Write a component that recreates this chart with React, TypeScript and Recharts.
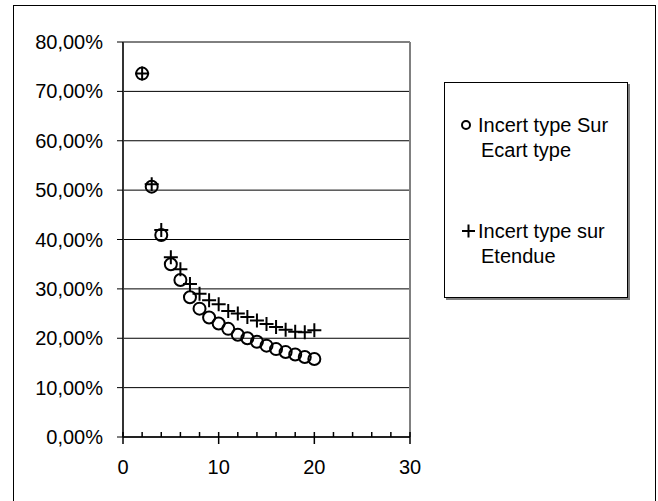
import {
  ScatterChart,
  Scatter,
  XAxis,
  YAxis,
  CartesianGrid,
  Legend,
  ReferenceLine,
} from "recharts"

// sample size n
const X_VALUES = [2, 3, 4, 5, 6, 7, 8, 9, 10, 11, 12, 13, 14, 15, 16, 17, 18, 19, 20]

// values in %
const ECART_TYPE = [
  73.6, 50.7, 40.9, 35.0, 31.8, 28.3, 26.0, 24.2, 23.0, 21.9,
  20.7, 20.0, 19.3, 18.5, 17.8, 17.2, 16.7, 16.2, 15.8,
]
const ETENDUE = [
  73.6, 51.2, 41.9, 36.4, 34.0, 31.0, 29.0, 27.7, 26.9, 25.5,
  25.0, 24.3, 23.6, 22.9, 22.3, 21.7, 21.3, 21.2, 21.6,
]

const X_TICKS = [0, 2, 4, 6, 8, 10, 12, 14, 16, 18, 20, 22, 24, 26, 28, 30]
const Y_TICKS = [0, 10, 20, 30, 40, 50, 60, 70, 80]

const SERIES_NAMES = ["Incert type Sur Ecart type", "Incert type sur Etendue"]

const FONT = "'Liberation Sans', Arial, sans-serif"

const ecartData = X_VALUES.map((x, i) => ({ x, y: ECART_TYPE[i] }))
const etendueData = X_VALUES.map((x, i) => ({ x, y: ETENDUE[i] }))

const formatPercent = (v: number) => `${v.toFixed(2).replace(".", ",")}%`

const circleShape = (props: any) => (
  <circle cx={props.cx} cy={props.cy} r={6} fill="none" stroke="#000" strokeWidth={2} />
)

const plusShape = (props: any) => {
  const { cx, cy } = props
  return (
    <path
      d={`M${cx - 7},${cy}H${cx + 7}M${cx},${cy - 7}V${cy + 7}`}
      stroke="#000"
      strokeWidth={2}
      fill="none"
    />
  )
}

const XTick = (props: any) => {
  const { x, y, payload } = props
  const major = payload.value % 10 === 0
  return (
    <g>
      <line x1={x} x2={x} y1={y - 5} y2={major ? y + 7 : y} stroke="#000" strokeWidth={1.5} />
      {major && (
        <text x={x} y={y + 37} textAnchor="middle" fontSize={20} fontFamily={FONT} fill="#000">
          {payload.value}
        </text>
      )}
    </g>
  )
}

const renderLegend = () => (
  <div
    style={{
      width: 184,
      height: 216,
      boxSizing: "border-box",
      border: "1px solid #000",
      boxShadow: "2px 2px 0 #808080",
      background: "#fff",
    }}
  >
    <svg width={182} height={214} style={{ display: "block" }}>
      <circle cx={21} cy={42} r={4} fill="none" stroke="#000" strokeWidth={2} />
      <text x={33} y={49} fontSize={20} fontFamily={FONT} fill="#000">
        <tspan x={33}>Incert type Sur</tspan>
        <tspan x={36} dy={25}>Ecart type</tspan>
      </text>
      <path d="M17,148H30M23.5,141.5V154.5" stroke="#000" strokeWidth={2} />
      <text x={33} y={155} fontSize={20} fontFamily={FONT} fill="#000">
        <tspan x={33}>Incert type sur</tspan>
        <tspan x={36} dy={25}>Etendue</tspan>
      </text>
    </svg>
  </div>
)

export default function App() {
  return (
    <div
      style={{
        position: "absolute",
        left: 0,
        top: 0,
        width: 658,
        height: 501,
        overflow: "hidden",
        background: "#fff",
      }}
    >
      <div
        style={{
          position: "absolute",
          left: 13,
          top: 5,
          width: 641,
          height: 520,
          border: "1px solid #000",
        }}
      />
      <div style={{ position: "absolute", left: 0, top: 0 }}>
        <ScatterChart
          width={658}
          height={501}
          margin={{ top: 42, right: 248, bottom: 24, left: 0 }}
        >
          <CartesianGrid vertical={false} stroke="#000" strokeWidth={1} />
          <XAxis
            type="number"
            dataKey="x"
            domain={[0, 30]}
            ticks={X_TICKS}
            interval={0}
            height={40}
            tickSize={0}
            tickMargin={0}
            tickLine={false}
            tick={<XTick />}
            axisLine={{ stroke: "#222", strokeWidth: 2 }}
          />
          <YAxis
            type="number"
            dataKey="y"
            domain={[0, 80]}
            ticks={Y_TICKS}
            interval={0}
            width={123}
            tickSize={6}
            tickMargin={14}
            tickFormatter={formatPercent}
            tick={{ fontSize: 20, fontFamily: FONT, fill: "#000" }}
            tickLine={{ stroke: "#000" }}
            axisLine={{ stroke: "#333", strokeWidth: 2 }}
          />
          <ReferenceLine x={30} stroke="#808080" strokeWidth={2} />
          <Legend
            layout="vertical"
            align="center"
            verticalAlign="middle"
            content={renderLegend}
            wrapperStyle={{ left: 444, top: 82, width: 184, height: 216 }}
          />
          <Scatter
            name={SERIES_NAMES[0]}
            data={ecartData}
            shape={circleShape}
            isAnimationActive={false}
          />
          <Scatter
            name={SERIES_NAMES[1]}
            data={etendueData}
            shape={plusShape}
            isAnimationActive={false}
          />
        </ScatterChart>
      </div>
    </div>
  )
}
